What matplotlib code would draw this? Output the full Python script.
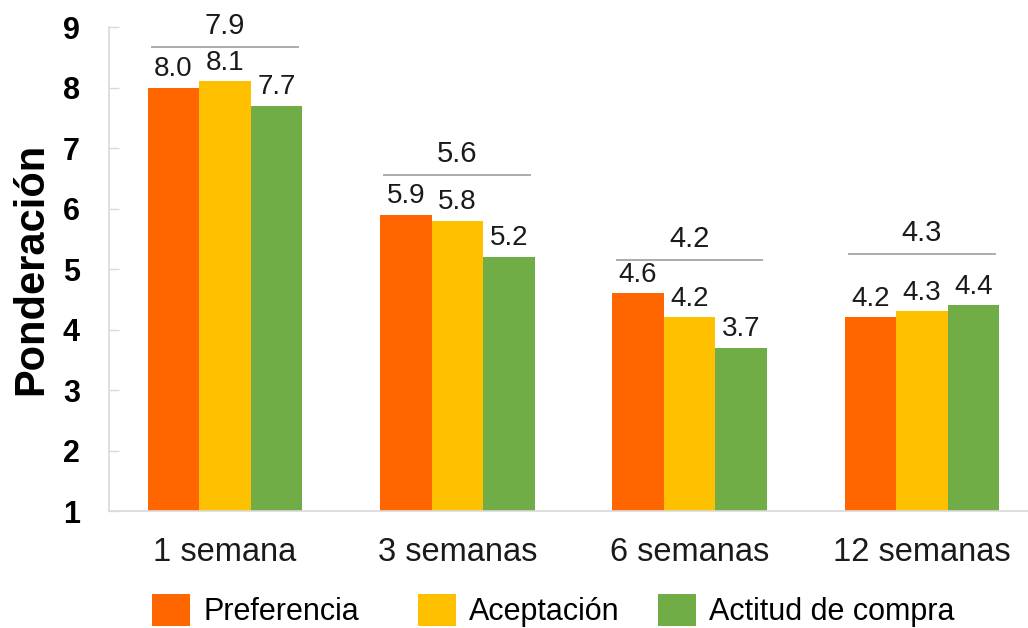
import numpy as np
import matplotlib.pyplot as plt
from matplotlib.patches import Patch

plt.rcParams['font.family'] = ['Liberation Sans', 'DejaVu Sans']

# Datos
categorias = ['1 semana', '3 semanas', '6 semanas', '12 semanas']
series = ['Preferencia', 'Aceptación', 'Actitud de compra']
preferencia = [8.0, 5.9, 4.6, 4.2]
aceptacion = [8.1, 5.8, 4.2, 4.3]
actitud = [7.7, 5.2, 3.7, 4.4]
promedios = [7.9, 5.6, 4.2, 4.3]
nivel_promedio = [8.67, 6.55, 5.15, 5.25]  # altura de la linea de promedio
colores = ['#ff6600', '#ffc000', '#70ad47']

fig = plt.figure(figsize=(10.28, 6.28), dpi=100)
ax = fig.add_axes([0.106, 0.1863, 0.894, 0.7707])

x = np.arange(len(categorias))
ancho = 0.222
valores = [preferencia, aceptacion, actitud]

for i, (vals, nombre, color) in enumerate(zip(valores, series, colores)):
    pos = x + (i - 1) * ancho
    ax.bar(pos, np.array(vals) - 1, width=ancho, bottom=1, color=color,
           label=nombre, linewidth=0)
    for p, v in zip(pos, vals):
        ax.annotate(f'{v:.1f}', xy=(p, v), xytext=(0, 4), textcoords='offset points',
                    ha='center', va='bottom', fontsize=20, color='#1a1a1a')

# lineas de promedio por grupo
for xi, nivel, prom in zip(x, nivel_promedio, promedios):
    ax.plot([xi - 0.318, xi + 0.318], [nivel, nivel], color='#a6a6a6', lw=1.3,
            solid_capstyle='butt')
    ax.annotate(f'{prom:.1f}', xy=(xi, nivel), xytext=(0, 5), textcoords='offset points',
                ha='center', va='bottom', fontsize=21, color='#1a1a1a')

ax.set_xlim(-0.5, 3.457)
ax.set_ylim(1, 9)
ax.set_yticks(range(1, 10))
ax.set_xticks(x)
ax.set_xticklabels(categorias, fontsize=23.5, color='#1a1a1a')
ax.tick_params(axis='x', length=0, pad=19)
ax.tick_params(axis='y', direction='in', length=7, width=1, color='#d9d9d9',
               labelsize=22, pad=21)
for lbl in ax.get_yticklabels():
    lbl.set_fontweight('bold')

for s in ['top', 'right']:
    ax.spines[s].set_visible(False)
for s in ['left', 'bottom']:
    ax.spines[s].set_color('#d9d9d9')
    ax.spines[s].set_linewidth(1.2)

ax.set_ylabel('Ponderación', fontsize=30, fontweight='bold', labelpad=8)

# leyenda: una entrada por serie, colocadas a mano
x_leyenda = [152, 418, 658]
for xl, nombre, color in zip(x_leyenda, series, colores):
    fig.legend(handles=[Patch(facecolor=color, label=nombre)], loc='upper left',
               bbox_to_anchor=(xl / 1028, 1 - 594 / 628), frameon=False, fontsize=22,
               handlelength=1.25, handleheight=1.25, handletextpad=0.42,
               borderpad=0, borderaxespad=0)

fig.savefig('out.png', dpi=100)
